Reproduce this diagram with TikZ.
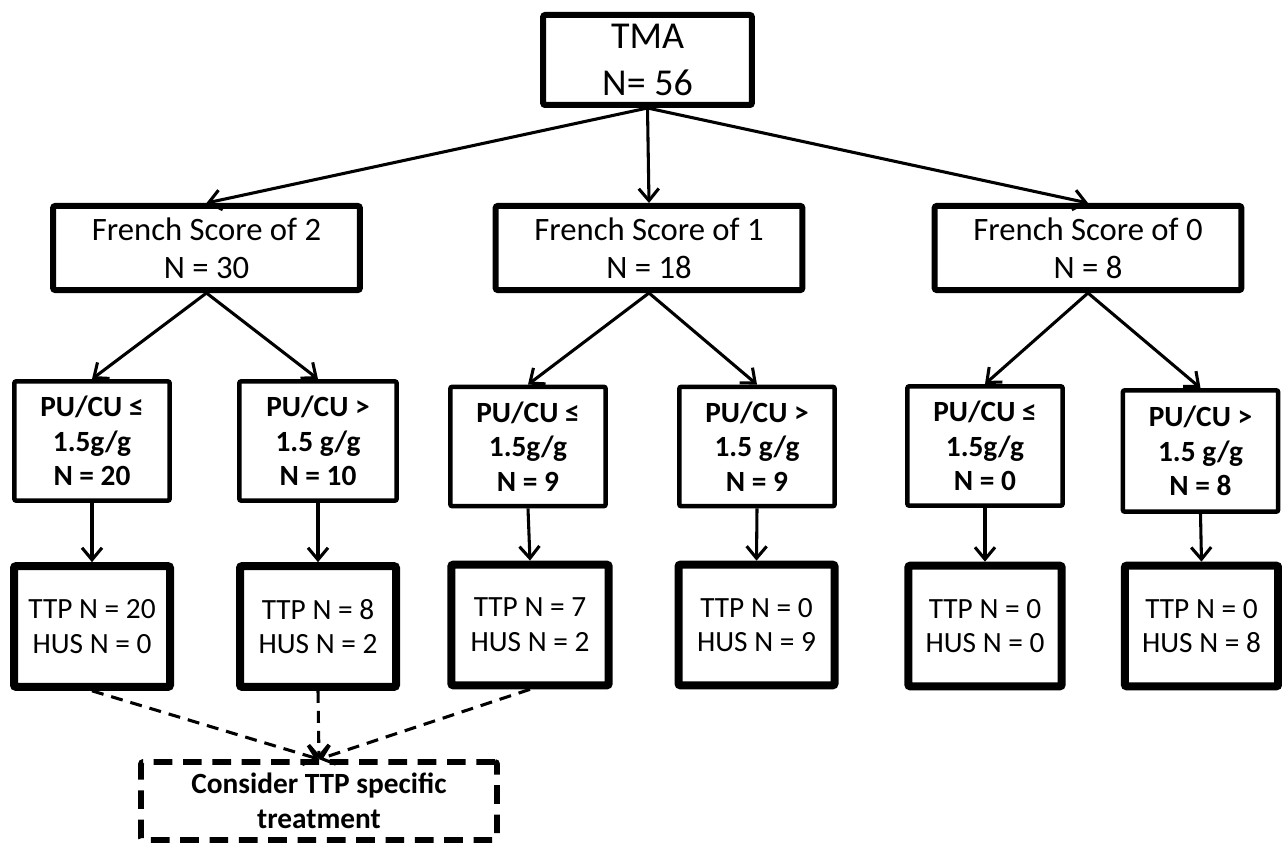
\documentclass[tikz,border=0pt]{standalone}
\usepackage{fontspec}
\setmainfont{Carlito}
\usetikzlibrary{arrows.meta}
\begin{document}
\begin{tikzpicture}[x=0.75pt,y=-0.75pt,
  box/.style={draw, rectangle, rounded corners=1.5pt, align=center, inner sep=0pt, fill=white, text=black},
  topbox/.style={box, line width=4.5pt, minimum width=156.5pt, minimum height=67.5pt, font=\fontsize{28.5}{35}\selectfont},
  frbox/.style={box, line width=4.5pt, minimum width=230pt, minimum height=63pt, font=\fontsize{24.5}{28.5}\selectfont},
  pubox/.style={box, line width=3.4pt, minimum width=116.5pt, minimum height=89.5pt, font=\bfseries\fontsize{22}{26}\selectfont},
  ttpbox/.style={box, line width=6pt, minimum width=117pt, minimum height=90.5pt, font=\fontsize{22}{26}\selectfont},
  considerbox/.style={box, line width=4.2pt, dash pattern=on 14pt off 8pt, minimum width=267pt, minimum height=58.5pt, font=\bfseries\fontsize{22}{26}\selectfont},
  arr/.style={-{Straight Barb[length=9pt,width=15pt]}, line width=2.3pt},
  darr/.style={arr, dash pattern=on 9pt off 6pt}
]
\useasboundingbox (0,0) rectangle (1282,845);

\node[topbox] (tma) at (647.5,60) {TMA\\N= 56};

\node[frbox] (f2) at (206.5,248) {French Score of 2\\N = 30};
\node[frbox] (f1) at (649,248) {French Score of 1\\N = 18};
\node[frbox] (f0) at (1088,248) {French Score of 0\\N = 8};

\node[pubox] (p1) at (92,441) {PU/CU ≤\\1.5g/g\\N = 20};
\node[pubox, minimum width=118pt] (p2) at (318,441) {PU/CU >\\1.5 g/g\\N = 10};
\node[pubox] (p3) at (528,446.5) {PU/CU ≤\\1.5g/g\\N = 9};
\node[pubox] (p4) at (757,446.5) {PU/CU >\\1.5 g/g\\N = 9};
\node[pubox] (p5) at (985,446) {PU/CU ≤\\1.5g/g\\N = 0};
\node[pubox, minimum height=91pt] (p6) at (1200.5,451) {PU/CU >\\1.5 g/g\\N = 8};

\node[ttpbox] (t1) at (92,626.5) {TTP N = 20\\HUS N = 0};
\node[ttpbox] (t2) at (318,626.5) {TTP N = 8\\HUS N = 2};
\node[ttpbox, minimum width=118pt] (t3) at (530,625) {TTP N = 7\\HUS N = 2};
\node[ttpbox] (t4) at (756.5,625) {TTP N = 0\\HUS N = 9};
\node[ttpbox, minimum width=115pt] (t5) at (985,626) {TTP N = 0\\HUS N = 0};
\node[ttpbox, minimum width=115pt] (t6) at (1201.5,626) {TTP N = 0\\HUS N = 8};

\node[considerbox] (c) at (319,801) {Consider TTP specific\\treatment};

\draw[arr] (tma.south) -- (f2.north);
\draw[arr] (tma.south) -- (f1.north);
\draw[arr] (tma.south) -- (f0.north);

\draw[arr] (f2.south) -- (p1.north);
\draw[arr] (f2.south) -- (p2.north);
\draw[arr] (f1.south) -- (p3.north);
\draw[arr] (f1.south) -- (p4.north);
\draw[arr] (f0.south) -- (p5.north);
\draw[arr] (f0.south) -- (p6.north);

\draw[arr] (p1.south) -- (t1.north);
\draw[arr] (p2.south) -- (t2.north);
\draw[arr] (p3.south) -- (t3.north);
\draw[arr] (p4.south) -- (t4.north);
\draw[arr] (p5.south) -- (t5.north);
\draw[arr] (p6.south) -- (t6.north);

\draw[darr] (t1.south) -- (c.north);
\draw[darr] (t2.south) -- (c.north);
\draw[darr] (t3.south) -- (c.north);
\end{tikzpicture}
\end{document}
